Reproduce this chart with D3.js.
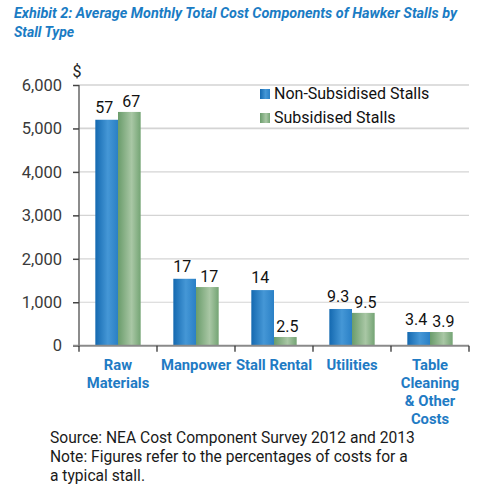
<!DOCTYPE html>
<html>
<head>
<meta charset="utf-8">
<script src="https://cdn.jsdelivr.net/npm/d3@7/dist/d3.min.js"></script>
<style>
  html, body { margin: 0; padding: 0; background: #fff; }
  svg { display: block; font-family: Roboto, "Noto Sans", sans-serif; }
</style>
</head>
<body>
<svg id="chart" width="486" height="499"></svg>
<script>
const categories = [["Raw", "Materials"], ["Manpower"], ["Stall Rental"], ["Utilities"], ["Table", "Cleaning", "& Other", "Costs"]];
const seriesNames = ["Non-Subsidised Stalls", "Subsidised Stalls"];
const nonSubsidised = [5200, 1540, 1280, 845, 315];
const subsidised = [5380, 1350, 200, 755, 315];
const nonSubLabels = ["57", "17", "14", "9.3", "3.4"];
const subLabels = ["67", "17", "2.5", "9.5", "3.9"];
const yTicks = [0, 1000, 2000, 3000, 4000, 5000, 6000];
const titleLines = ["Exhibit 2: Average Monthly Total Cost Components of Hawker Stalls by", "Stall Type"];
const footerLines = ["Source: NEA Cost Component Survey 2012 and 2013", "Note: Figures refer to the percentages of costs for a", "a typical stall."];

(function () {
const svg = d3.select("#chart");
const mLeft = 79, mRight = 469, mTop = 85, mBottom = 345.7;

const defs = svg.append("defs");
function grad(id, stops) {
  const g = defs.append("linearGradient").attr("id", id).attr("x1", "0%").attr("x2", "100%").attr("y1", "0%").attr("y2", "0%");
  stops.forEach(s => g.append("stop").attr("offset", s[0]).attr("stop-color", s[1]));
}
grad("gBlue", [["0%", "#1469b0"], ["55%", "#4597d6"], ["100%", "#2a80c6"]]);
grad("gGreen", [["0%", "#6a9c6b"], ["60%", "#a9c7a5"], ["100%", "#74a474"]]);

const x0 = d3.scaleBand().domain(d3.range(categories.length)).range([mLeft, mRight]).paddingInner(0).paddingOuter(0);
const x1 = d3.scaleBand().domain([0, 1]).range([0, x0.bandwidth()]).paddingOuter(0.72).paddingInner(0);
const y = d3.scaleLinear().domain([0, 6000]).range([mBottom, mTop]);

// title
svg.append("g").selectAll("text").data(titleLines).join("text")
  .attr("x", 14).attr("y", (d, i) => 18 + i * 19)
  .attr("fill", "#1a7cc4").attr("font-size", 14).attr("font-weight", "bold").attr("font-style", "italic")
  .attr("textLength", (d, i) => i === 0 ? 443 : null)
  .attr("lengthAdjust", "spacingAndGlyphs")
  .text(d => d);

// gridlines
svg.append("g").selectAll("line").data(yTicks.filter(t => t > 0)).join("line")
  .attr("x1", mLeft).attr("x2", mRight)
  .attr("y1", d => y(d)).attr("y2", d => y(d))
  .attr("stroke", d => d === 6000 ? "#bdbdbd" : "#d4d4d4").attr("stroke-width", d => d === 5000 ? 1.8 : 1.2);

// y axis
const yAxis = d3.axisLeft(y).tickValues(yTicks).tickSize(6).tickPadding(11).tickFormat(d3.format(","));
const gy = svg.append("g").attr("transform", `translate(${mLeft},0)`).call(yAxis);
gy.select(".domain").attr("stroke", "#666").attr("stroke-width", 1.5).attr("d", `M0,${mTop}V${mBottom}`);
gy.selectAll(".tick line").attr("stroke", "#444").attr("stroke-width", 1.5);
gy.selectAll(".tick text").attr("fill", "#3a3a3a").attr("font-size", 16.5).attr("font-family", "Roboto, sans-serif");

svg.append("text").attr("x", 77).attr("y", 77).attr("text-anchor", "middle").attr("font-size", 16).attr("fill", "#222").text("$");

// bars
const groups = svg.append("g").selectAll("g").data(categories.map((c, i) => i)).join("g")
  .attr("transform", i => `translate(${x0(i)},0)`);
groups.append("rect")
  .attr("x", x1(0)).attr("width", x1.bandwidth())
  .attr("y", i => y(nonSubsidised[i])).attr("height", i => mBottom - y(nonSubsidised[i]))
  .attr("fill", "url(#gBlue)");
groups.append("rect")
  .attr("x", x1(1)).attr("width", x1.bandwidth())
  .attr("y", i => y(subsidised[i])).attr("height", i => mBottom - y(subsidised[i]))
  .attr("fill", "url(#gGreen)");
groups.append("text")
  .attr("x", x1(0) + x1.bandwidth() / 2 - 2.5).attr("y", i => y(nonSubsidised[i]) - 7)
  .attr("text-anchor", "middle").attr("font-size", 16).attr("fill", "#111").text(i => nonSubLabels[i]);
groups.append("text")
  .attr("x", x1(1) + x1.bandwidth() / 2 + 2).attr("y", i => y(subsidised[i]) - 5)
  .attr("text-anchor", "middle").attr("font-size", 16).attr("fill", "#111").text(i => subLabels[i]);

// x axis
const gx = svg.append("g").attr("transform", `translate(0,${mBottom})`);
gx.append("line").attr("x1", 73).attr("x2", mRight).attr("y1", 0).attr("y2", 0).attr("stroke", "#8a8a8a").attr("stroke-width", 2);
gx.selectAll("line.tk").data(d3.range(categories.length + 1)).join("line").attr("class", "tk")
  .attr("x1", i => mLeft + i * x0.bandwidth()).attr("x2", i => mLeft + i * x0.bandwidth())
  .attr("y1", 0).attr("y2", 6).attr("stroke", "#333").attr("stroke-width", 1.3);

const labels = svg.append("g").selectAll("text").data(categories.map((c, i) => i)).join("text")
  .attr("x", i => x0(i) + x0.bandwidth() / 2).attr("y", 370)
  .attr("text-anchor", "middle").attr("font-size", 14.8).attr("font-weight", "bold").attr("fill", "#1f7bc4");
labels.selectAll("tspan").data(i => categories[i]).join("tspan")
  .attr("x", function () { return d3.select(this.parentNode).attr("x"); })
  .attr("dy", (d, j) => j === 0 ? 0 : 18).text(d => d);

// legend
const legend = svg.append("g");
const legColors = ["url(#gBlue)", "url(#gGreen)"];
seriesNames.forEach((name, i) => {
  legend.append("rect").attr("x", 260).attr("y", 89 + i * 24).attr("width", 10).attr("height", 10).attr("fill", legColors[i]);
  legend.append("text").attr("x", 274).attr("y", 99 + i * 24).attr("font-size", 16).attr("fill", "#111").text(name);
});

// footer
svg.append("g").selectAll("text").data(footerLines).join("text")
  .attr("x", 50).attr("y", (d, i) => 443 + i * 19)
  .attr("font-size", 15.6).attr("fill", "#1a1a1a").text(d => d);
})();
</script>
</body>
</html>
